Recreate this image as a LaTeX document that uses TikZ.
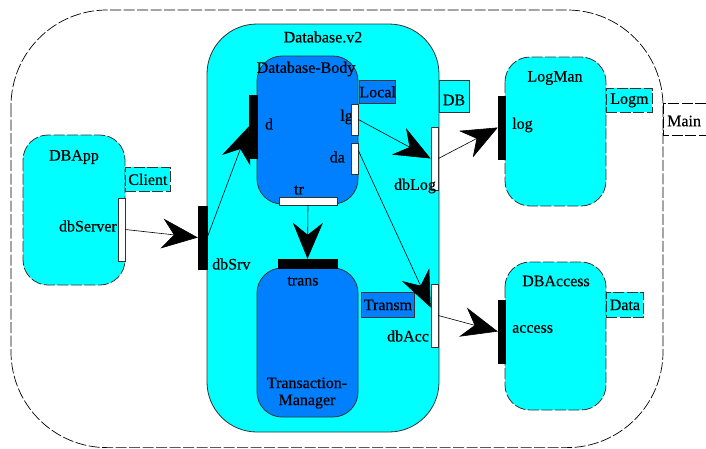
\documentclass[tikz,border=0pt]{standalone}
\usepackage{fontspec}
\setmainfont{Liberation Serif}[FakeBold=0.4]
\usetikzlibrary{arrows.meta}
\definecolor{aqua}{HTML}{00FFFF}
\definecolor{azure}{HTML}{0080FF}
\tikzset{
  txt/.style={inner sep=0pt, font=\fontsize{16}{17}\selectfont},
  dsh/.style={dash pattern=on 11pt off 2.5pt},
  capsule/.style={draw=black!80, line width=0.8pt, rounded corners=#1},
  labelbox/.style={draw=black!80, line width=0.8pt, inner sep=0pt, anchor=north west,
    font=\fontsize{16}{17}\selectfont},
  inport/.style={draw=black!80, fill=white, line width=0.7pt, inner sep=0pt},
  outport/.style={draw=black, fill=black, inner sep=0pt},
  link/.style={line width=0.6pt, -{Stealth[length=36pt,width=30pt,inset=12pt]}},
}
\begin{document}
\begin{tikzpicture}[x=1pt,y=-1pt]
\clip (0,0) rectangle (706,448);
\fill[white] (0,0) rectangle (706,448);

% outer composite and its label
\draw[dsh, line width=0.7pt, rounded corners=96] (11,10) rectangle (663,447.6);
\draw[dsh, line width=0.7pt] (663,103) rectangle (720,135);
\node[txt, anchor=west] (mainlbl) at (667,121) {Main};

% DBApp component
\draw[capsule=25, dsh, fill=aqua] (23,135) rectangle (125,285);
\node[txt] (dbapplbl) at (74,157) {DBApp};
\node[labelbox, dsh, fill=aqua, minimum width=45pt, minimum height=24pt] (client) at (125,167) {Client};
\node[inport, minimum width=7pt, minimum height=63pt] (dbServer) at (121.5,229.5) {};
\node[txt, anchor=east] (dbServerlbl) at (117,226) {dbServer};

% Database.v2 composite
\draw[capsule=50, fill=aqua] (207,24) rectangle (439,432);
\node[txt] (dbv2lbl) at (323,37) {Database.v2};
\node[labelbox, fill=aqua, minimum width=30pt, minimum height=32pt] (dbtag) at (439,80) {};
\node[txt] (dbtaglbl) at (454,100) {DB};

% Database-Body
\draw[capsule=25, fill=azure] (257,56) rectangle (358,204);
\node[txt] (bodylbl) at (306,69) {Database-Body};
\node[labelbox, fill=azure, minimum width=36pt, minimum height=23pt] (local) at (359,80) {Local};
\node[txt] (dlbl) at (269,124) {d};
\node[txt, anchor=east] (lglbl) at (353,117) {lg};
\node[txt, anchor=east] (dalbl) at (345,157) {da};
\node[txt] (trlbl) at (299,190) {tr};
\node[outport, minimum width=8pt, minimum height=63pt] (d) at (253,126.5) {};
\node[inport, minimum width=7pt, minimum height=31pt] (lg) at (354.5,119.5) {};
\node[inport, minimum width=7pt, minimum height=31pt] (da) at (354.5,158.5) {};
\node[inport, minimum width=58pt, minimum height=8pt] (tr) at (308,201) {};

% Transaction-Manager
\draw[capsule=25, fill=azure] (257,268) rectangle (358,417);
\node[outport, minimum width=59pt, minimum height=9pt] (trans) at (307.5,263.5) {};
\node[txt] (translbl) at (303,281) {trans};
\node[txt, align=center] (tmlbl) at (307,393) {Transaction-\\Manager};
\node[labelbox, fill=azure, minimum width=53pt, minimum height=25pt] (transm) at (361,292) {Transm};

% relay ports of Database.v2
\node[outport, minimum width=9pt, minimum height=63pt] (dbSrv) at (202.5,237.5) {};
\node[txt, anchor=west] (dbSrvlbl) at (212,264) {dbSrv};
\node[inport, minimum width=7pt, minimum height=63pt] (dbLog) at (434.5,158.5) {};
\node[txt] (dbLoglbl) at (415,186) {dbLog};
\node[inport, minimum width=7pt, minimum height=63pt] (dbAcc) at (434.5,315.5) {};
\node[txt] (dbAcclbl) at (408,336) {dbAcc};

% LogMan component
\draw[capsule=25, dsh, fill=aqua] (505,57) rectangle (606,206);
\node[txt] (logmanlbl) at (555,78) {LogMan};
\node[labelbox, dsh, fill=aqua, minimum width=46pt, minimum height=24pt] (logm) at (606,88) {Logm};
\node[outport, minimum width=7pt, minimum height=63pt] (log) at (501.5,127.5) {};
\node[txt, anchor=west] (loglbl) at (512,125) {log};

% DBAccess component
\draw[capsule=25, dsh, fill=aqua] (505,262) rectangle (606,410);
\node[txt] (dbaccesslbl) at (556,281) {DBAccess};
\node[labelbox, dsh, fill=aqua, minimum width=37pt, minimum height=25pt] (data) at (606,292) {Data};
\node[outport, minimum width=7pt, minimum height=63pt] (access) at (501.5,331.5) {};
\node[txt, anchor=west] (accesslbl) at (512,329) {access};

% connectors
\draw[link] (dbServer.east) -- (dbSrv.west);
\draw[link] (dbSrv.east) -- (d.west);
\draw[link] (tr.south) -- (trans.north);
\draw[link] (lg.east) -- (dbLog.west);
\draw[link] (dbLog.east) -- (log.west);
\draw[link] ([yshift=8pt]da.east) -- ([yshift=8pt]dbAcc.west);
\draw[link] (dbAcc.east) -- (access.west);
\end{tikzpicture}
\end{document}
